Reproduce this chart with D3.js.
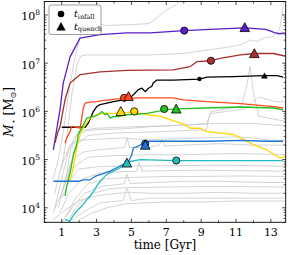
<!DOCTYPE html>
<html><head><meta charset="utf-8">
<script src="https://cdn.jsdelivr.net/npm/d3@7"></script>
<style>body{margin:0;background:#fff}svg{display:block}text{font-family:"DejaVu Serif",serif;fill:#000}</style>
</head><body>
<svg id="c" width="291" height="255"></svg>
<script>
// ---- data (time in Gyr, log10 stellar mass in Msun) ----
const xTicks = [1,3,5,7,9,11,13];
const yTickExp = [4,5,6,7,8];

const purpleT = [0.52,0.71,0.9,1.09,1.48,2.05,3.2,4.74,6.07,8.03,9.5,11.48,12.7,13.26,13.5,13.8];
const purpleM = [5.2,5.62,6.03,6.59,7.13,7.52,7.59,7.63,7.63,7.675,7.7,7.73,7.70,7.63,7.61,7.63];
const redT = [0.61,0.79,0.9,1.19,1.48,2.05,3.2,4.74,7.4,8.37,8.76,9.56,10.1,11.25,12.05,13.14,13.9];
const redM = [5.35,5.58,5.68,6.24,6.59,6.76,6.82,6.85,6.86,6.93,7.03,7.05,7.1,7.17,7.2,7.2,7.14];
const blackT = [1.0,2.34,2.53,2.82,3.01,3.2,3.59,3.97,4.54,4.93,5.21,5.4,5.6,5.79,5.98,6.17,6.25,6.46,7.4,8.9,9.33,10.85,12.63,13.36,13.7];
const blackM = [5.67,5.67,5.76,6.0,6.1,6.14,6.17,6.2,6.24,6.28,6.38,6.45,6.48,6.41,6.48,6.52,6.59,6.65,6.65,6.67,6.71,6.72,6.74,6.74,6.71];
const orangeT = [1.19,1.29,1.48,1.57,1.76,2.05,2.15,2.24,2.34,2.63,3.01,3.39,3.78,4.16,4.54,5.31,7.4,7.97,9.33,11.25,13.14,13.7];
const orangeM = [5.34,5.45,5.58,5.69,5.68,5.65,5.86,6.07,6.17,6.19,6.2,6.23,6.24,6.26,6.26,6.28,6.28,6.24,6.2,6.16,6.1,6.07];
const yellowT = [1.29,1.5,1.67,1.86,2.05,2.34,2.63,3.01,3.39,4.35,5.11,5.89,6.65,7.22,7.97,8.37,8.95,9.33,10.1,10.86,11.25,12.0,12.78,13.36,13.55,13.84];
const yellowM = [4.58,4.58,4.86,5.25,5.52,5.72,5.86,5.93,5.96,5.96,5.99,5.93,5.9,5.83,5.74,5.65,5.65,5.58,5.55,5.52,5.45,5.31,5.2,5.07,5.03,5.07];
const greenT = [1.19,1.29,1.48,1.67,1.86,1.95,2.24,2.44,2.82,3.1,3.3,3.49,3.59,3.78,3.97,4.25,4.74,5.31,5.89,6.65,6.88,7.57,9.33,11.25,13.14,13.7];
const greenM = [4.24,4.45,4.72,5.1,5.31,5.52,5.72,5.86,5.89,5.93,6.0,5.93,5.96,5.86,5.89,5.89,5.93,5.94,5.96,6.01,6.03,6.05,6.07,6.09,6.07,6.03];
const blueT = [0.52,1.95,2.24,2.63,2.91,3.2,3.78,4.16,4.54,4.83,5.02,5.11,5.5,5.79,6.07,7.4,9.33,11.25,12.78,13.7];
const blueM = [4.55,4.55,4.58,4.58,4.65,4.69,4.76,4.83,4.9,4.96,5.1,5.24,5.3,5.36,5.38,5.38,5.38,5.4,5.38,5.38];
const cyanT = [1.19,1.48,1.57,1.86,2.05,2.24,2.44,2.63,2.82,3.01,3.2,3.39,3.59,3.97,4.35,4.74,4.93,5.5,7.57,13.7];
const cyanM = [3.76,3.72,3.79,3.93,4.0,4.07,4.17,4.24,4.34,4.45,4.55,4.62,4.69,4.76,4.83,4.9,4.96,5.0,4.98,4.98];

// gray background histories
const grayT = [
 [0.5,0.8,1.1,1.4,1.7,2.0,2.3,2.6,3.5,5.0,6.0,6.5,7.0,7.5,8.0],
 [1.0,1.3,1.6,1.9,2.1,2.4,4,6,8,9.3,10.5,11.3,11.8,12.2,12.6,13.1,13.5,13.75],
 [1.2,1.5,2.0,3,5,7,8.5,9.3,9.6,10.5,11.3,11.6,11.8,12.0,12.3,13,13.8],
 [0.6,1.0,1.5,2.0,3,4.5,5.5,7,9,11,12,13,13.8],
 [0.8,1.2,1.6,2.2,3,4.6,4.75,4.9,6,6.6,6.75,6.9,8,10,12,13.8],
 [0.5,1.0,1.5,2.5,4,6,8,10,12,13.8],
 [1.0,1.5,2.0,3.0,4,5.5,7,9,11,13.8],
 [0.9,1.4,2.2,3.2,4.5,5.3,5.45,5.6,7,9,11,13.8],
 [1.2,1.8,2.5,3.5,5,7,9,11,13.8],
 [1.0,1.6,2.3,3.4,4.6,4.75,4.9,6,8,10,12,13.8],
 [1.4,2.0,2.8,3.8,5,7,9,11,13.8],
 [0.5,1.2,2.0,3.0,4.2,5,6,8,10,12,13.8],
 [1.6,2.4,3.2,4.5,4.75,5,6,7,9,11,13.8],
 [2.0,2.8,3.6,4.6,5.6,7,9,11,13.8],
 [0.6,1.0,1.4,1.8,2.4,3,4,5,6,8,10,12,13.8],
 [1.3,1.8,2.5,4,6,8,9.3,9.5,10.5,11.5,12.3,12.8,13.3,13.8]
];
const grayM = [
 [4.6,5.0,5.6,6.4,7.0,7.5,7.8,7.88,7.78,7.8,7.82,7.95,8.1,8.2,8.35],
 [4.8,5.5,6.4,7.0,7.15,7.17,7.17,7.17,7.2,7.27,7.33,7.38,7.48,7.45,7.52,7.55,7.69,8.3],
 [4.5,5.2,5.6,5.65,5.68,5.7,5.72,5.75,6.0,6.05,6.1,6.5,6.93,6.4,5.9,5.85,5.8],
 [4.3,4.9,5.3,5.4,5.42,5.45,5.42,5.42,5.45,5.47,5.45,5.4,5.4],
 [4.0,4.6,5.0,5.15,5.2,5.25,5.45,5.25,5.25,5.3,5.42,5.28,5.3,5.33,5.3,5.3],
 [3.9,4.3,4.8,5.05,5.08,5.1,5.1,5.12,5.12,5.1],
 [4.2,4.6,4.8,4.85,4.86,4.87,4.87,4.88,4.88,4.86],
 [3.9,4.3,4.6,4.72,4.75,4.76,4.95,4.76,4.77,4.78,4.77,4.76],
 [3.8,4.2,4.5,4.6,4.63,4.65,4.65,4.66,4.65],
 [3.7,4.0,4.3,4.45,4.5,4.7,4.5,4.52,4.55,4.55,4.53,4.52],
 [3.75,4.1,4.3,4.4,4.42,4.43,4.44,4.44,4.43],
 [3.75,3.95,4.15,4.25,4.3,4.32,4.3,4.3,4.32,4.3,4.3],
 [3.75,3.95,4.1,4.15,4.4,4.15,4.2,4.2,4.2,4.2,4.2],
 [3.75,3.9,4.0,4.08,4.1,4.12,4.12,4.14,4.14],
 [4.0,4.6,5.2,5.5,5.6,5.62,5.63,5.65,5.68,5.72,5.75,5.75,5.7],
 [4.6,5.3,5.5,5.55,5.57,5.6,5.62,5.95,6.0,6.05,6.3,6.25,6.2,6.2]
];

const seriesNames = ["purple","red","black","orange","yellow","green","blue","cyan"];
const seriesColors = ["#5a1ec8","#a83030","#000000","#ff4a1c","#ffd700","#22c022","#1e74d4","#20bcbc"];
const seriesT = [purpleT,redT,blackT,orangeT,yellowT,greenT,blueT,cyanT];
const seriesM = [purpleM,redM,blackM,orangeM,yellowM,greenM,blueM,cyanM];
const infallT = [8.03,9.56,8.9,4.58,5.16,6.88,5.79,7.57];
const infallM = [7.675,7.05,6.67,6.28,6.0,6.05,5.33,4.98];
const quenchT = [11.5,12.05,12.63,4.83,4.39,7.57,5.79,4.74];
const quenchM = [7.74,7.2,6.74,6.31,6.0,6.05,5.3,4.93];

// ---- layout ----
const L=44.3,R=285.7,T=1.5,B=222.3;
const svg=d3.select("#c");
const x=d3.scaleLinear().domain([0,13.85]).range([L,R]);
const y=d3.scaleLog().domain([5e3,1.9e8]).range([B,T]);
svg.append("defs").append("clipPath").attr("id","pc").append("rect")
  .attr("x",L).attr("y",T).attr("width",R-L).attr("height",B-T);
const g=svg.append("g").attr("clip-path","url(#pc)");
const line=d3.line().x(d=>x(d[0])).y(d=>y(Math.pow(10,d[1])));

grayT.forEach((ts,i)=>{
  g.append("path").attr("d",line(ts.map((t,j)=>[t,grayM[i][j]])))
   .attr("fill","none").attr("stroke","#c8c8c8").attr("stroke-width",0.8);
});
seriesT.forEach((ts,i)=>{
  g.append("path").attr("d",line(ts.map((t,j)=>[t,seriesM[i][j]])))
   .attr("fill","none").attr("stroke",seriesColors[i]).attr("stroke-width",1.3)
   .attr("stroke-linejoin","round");
});
// markers
const tri=(cx,cy,s)=>`M${cx},${cy-s}L${cx+s},${cy+s*0.85}L${cx-s},${cy+s*0.85}Z`;
seriesNames.forEach((n,i)=>{
  const small = n==="black";
  const cx=x(infallT[i]), cy=y(Math.pow(10,infallM[i]));
  g.append("circle").attr("cx",cx).attr("cy",cy).attr("r",small?2.2:3.6)
    .attr("fill",seriesColors[i]).attr("stroke","#000").attr("stroke-width",small?0:0.8);
  const qx=x(quenchT[i]), qy=y(Math.pow(10,quenchM[i]));
  g.append("path").attr("d",tri(qx,qy,small?3.3:4.8))
    .attr("fill",seriesColors[i]).attr("stroke","#000").attr("stroke-width",small?0:0.8);
});

// ---- frame and ticks ----
svg.append("rect").attr("x",L).attr("y",T).attr("width",R-L).attr("height",B-T)
  .attr("fill","none").attr("stroke","#000").attr("stroke-width",0.9);
const tk=svg.append("g").attr("stroke","#000").attr("stroke-width",0.7);
for(let v=0; v<=13; v++){
  const len = (v%2===1)?3.5:2;
  const px=x(v);
  if(px<=L+0.5) continue;
  tk.append("line").attr("x1",px).attr("x2",px).attr("y1",B).attr("y2",B-len);
  tk.append("line").attr("x1",px).attr("x2",px).attr("y1",T).attr("y2",T+len);
}
for(let e=3;e<=8;e++){
  for(let k=1;k<=9;k++){
    const v=k*Math.pow(10,e);
    if(v<5e3||v>1.9e8) continue;
    const py=y(v), len=(k===1)?3.5:2;
    tk.append("line").attr("x1",L).attr("x2",L+len).attr("y1",py).attr("y2",py);
    tk.append("line").attr("x1",R).attr("x2",R-len).attr("y1",py).attr("y2",py);
  }
}
xTicks.forEach(v=>{
  svg.append("text").attr("x",x(v)).attr("y",235.5).attr("text-anchor","middle")
    .attr("font-size",11).text(v);
});
yTickExp.forEach(e=>{
  const py=y(Math.pow(10,e));
  const t=svg.append("text").attr("x",40).attr("y",py+5.5).attr("text-anchor","end").attr("font-size",11);
  t.append("tspan").text("10");
  t.append("tspan").attr("font-size",7.5).attr("dy",-5).text(e);
});
svg.append("text").attr("x",(L+R)/2).attr("y",248.5).attr("text-anchor","middle")
  .attr("font-size",12).text("time [Gyr]");
const yl=svg.append("text").attr("transform",`translate(13,${(T+B)/2}) rotate(-90)`)
  .attr("text-anchor","middle").attr("font-size",12);
yl.append("tspan").attr("font-style","italic").text("M");
yl.append("tspan").attr("font-size",8).attr("dy",2.5).text("⋆");
yl.append("tspan").attr("dy",-2.5).text(" [M");
yl.append("tspan").attr("font-size",8).attr("dy",2.5).text("⊙");
yl.append("tspan").attr("dy",-2.5).text("]");

// ---- legend ----
const lg=svg.append("g");
lg.append("rect").attr("x",49).attr("y",5).attr("width",52).attr("height",29.5).attr("rx",2)
  .attr("fill","#fff").attr("fill-opacity",0.85).attr("stroke","#888").attr("stroke-width",0.8);
lg.append("circle").attr("cx",61).attr("cy",14).attr("r",3.3).attr("fill","#000");
lg.append("path").attr("d",tri(61,26.5,4.6)).attr("fill","#000");
const lt1=lg.append("text").attr("x",74).attr("y",17).attr("font-size",9.5);
lt1.append("tspan").attr("font-style","italic").text("t");
lt1.append("tspan").attr("font-size",6.5).attr("dy",1.8).text("infall");
const lt2=lg.append("text").attr("x",74).attr("y",29.5).attr("font-size",9.5);
lt2.append("tspan").attr("font-style","italic").text("t");
lt2.append("tspan").attr("font-size",6.5).attr("dy",1.8).text("quench");
</script>
</body></html>
